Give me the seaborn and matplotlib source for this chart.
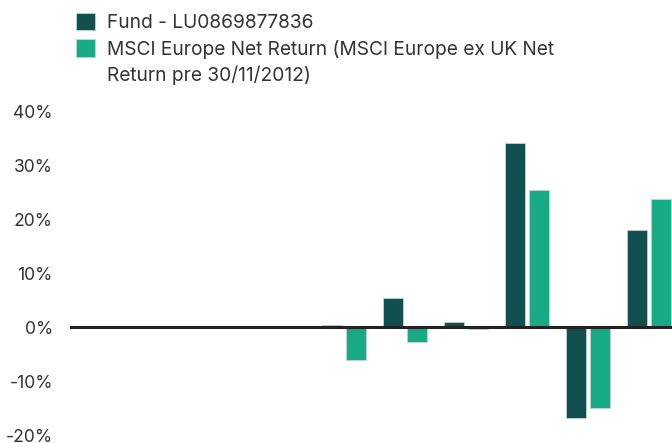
import matplotlib
matplotlib.use("Agg")
import matplotlib.pyplot as plt
import seaborn as sns
import pandas as pd
from matplotlib.patches import Patch

# ---- data ----
years = ["2014", "2015", "2016", "2017", "2018", "2019", "2020", "2021", "2022", "2023"]
data_years = ["2018", "2019", "2020", "2021", "2022", "2023"]
fund = [0.4, 5.5, 0.9, 34.2, -16.8, 18.1]
index = [-6.1, -2.7, -0.3, 25.6, -14.9, 23.9]
series_names = ["Fund - LU0869877836",
                "MSCI Europe Net Return (MSCI Europe ex UK Net"]
legend_extra = "Return pre 30/11/2012)"
yticks = [-20, -10, 0, 10, 20, 30, 40]
colors = ["#124F4F", "#18A985"]

df = pd.DataFrame({
    "year": data_years * 2,
    "value": fund + index,
    "series": [series_names[0]] * len(fund) + [series_names[1]] * len(index),
})

sns.set_theme(style="white")
plt.rcParams["font.family"] = ["Inter", "DejaVu Sans"]

fig = plt.figure(figsize=(6.72, 4.43), dpi=100)
ax = fig.add_axes([69.5 / 672, 8 / 443, 610 / 672, 323 / 443])

sns.barplot(data=df, x="year", y="value", hue="series", order=years,
            hue_order=series_names, palette=colors, saturation=1,
            width=0.787, gap=0.167, errorbar=None, ax=ax, legend=False,
            edgecolor="#b9d8d3", linewidth=0.6)

ax.axhline(0, color="#222222", lw=2.2, zorder=5)
ax.set_ylim(-20, 40)
ax.set_xlim(-0.5, len(years) - 0.5)
ax.set_yticks(yticks)
ax.set_yticklabels([f"{t}%" for t in yticks])
ax.tick_params(axis="y", length=0, pad=12, labelsize=12.6, labelcolor="#333333")
ax.set_xticks([])
ax.set_xlabel("")
ax.set_ylabel("")
for s in ax.spines.values():
    s.set_visible(False)

handles = [Patch(facecolor=colors[0], edgecolor="#b9d8d3", lw=0.6),
           Patch(facecolor=colors[1], edgecolor="#b9d8d3", lw=0.6),
           Patch(facecolor="none", edgecolor="none")]
fig.legend(handles, series_names + [legend_extra], loc="upper left",
           bbox_to_anchor=(76 / 672, 1 - 13 / 443), frameon=False,
           borderpad=0, borderaxespad=0, handlelength=1.0, handleheight=1.0,
           handletextpad=0.62, labelspacing=0.38, fontsize=13.8,
           labelcolor="#333333")

fig.savefig("out.png", dpi=100)
